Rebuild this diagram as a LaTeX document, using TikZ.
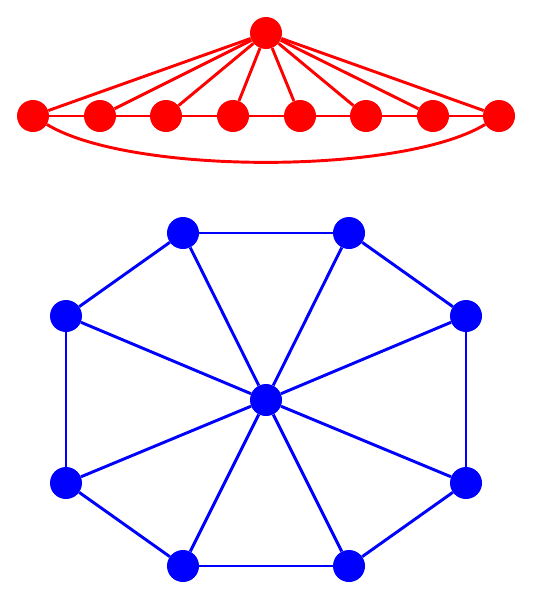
\documentclass[tikz,border=0pt]{standalone}
\begin{document}
\begin{tikzpicture}[x=0.75pt,y=-0.75pt,
  rv/.style={circle,fill=red,inner sep=0pt,minimum size=24pt},
  bv/.style={circle,fill=blue,inner sep=0pt,minimum size=24pt},
  re/.style={red,line width=2.2pt},
  be/.style={blue,line width=2.2pt}]
\useasboundingbox (0,0) rectangle (533,600);
% red graph
\node[rv] (t) at (266,33) {};
\foreach \i/\x in {1/33,2/100,3/166,4/233,5/300,6/366,7/433,8/499}
  \node[rv] (r\i) at (\x,116) {};
\begin{scope}[on background layer/.style={}]
\foreach \i in {1,...,8} \draw[re] (t) -- (r\i);
\foreach \i/\j in {1/2,2/3,3/4,4/5,5/6,6/7,7/8} \draw[re] (r\i) -- (r\j);
\draw[re] (r1) .. controls (130,175) and (402,175) .. (r8);
\end{scope}
% blue graph
\node[bv] (c) at (266,400) {};
\node[bv] (b1) at (183,233) {};
\node[bv] (b2) at (349,233) {};
\node[bv] (b3) at (466,316) {};
\node[bv] (b4) at (466,483) {};
\node[bv] (b5) at (349,566) {};
\node[bv] (b6) at (183,566) {};
\node[bv] (b7) at (66,483) {};
\node[bv] (b8) at (66,316) {};
\foreach \i in {1,...,8} \draw[be] (c) -- (b\i);
\foreach \i/\j in {1/2,2/3,3/4,4/5,5/6,6/7,7/8,8/1} \draw[be] (b\i) -- (b\j);
\end{tikzpicture}
\end{document}
